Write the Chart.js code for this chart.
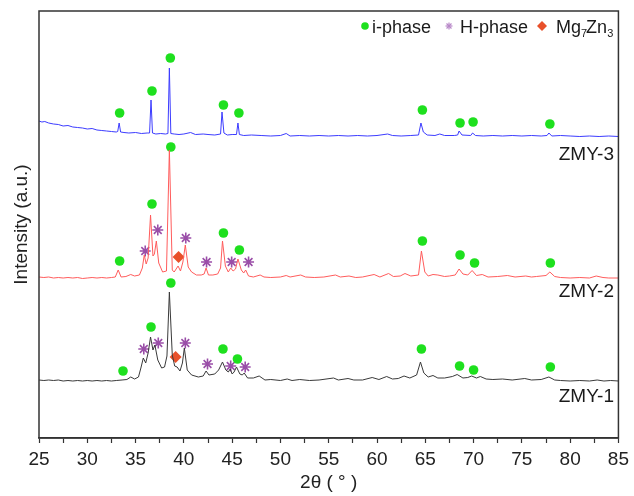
<!DOCTYPE html>
<html>
<head>
<meta charset="utf-8">
<script src="https://cdn.jsdelivr.net/npm/chart.js@4"></script>
<style>
    html, body { margin: 0; padding: 0; background: #fff; }
    #xrdChart { display: block; }
</style>
</head>
<body>
<canvas id="xrdChart" width="634" height="496"></canvas>
<script>
// 2theta (deg) vs intensity (a.u., traces stacked with offsets)
const zmy3 = [
    [25,317],[25.3,316],[25.6,316.5],[26,315],[26.5,314],[27,313.5],[27.5,312],[28,312.5],[28.5,311],[29,310.5],
    [29.5,310],[30,309],[30.5,309.5],[31,308],[31.5,307.5],[32,307],[32.5,306.5],[33,306],[33.15,306.5],[33.3,315],
    [33.45,306],[33.8,305.5],[34.3,305],[35,305.5],[35.6,304.5],[36.2,305],[36.45,305],[36.6,338],[36.75,305],[37.1,304],
    [37.6,304.5],[38.1,304],[38.35,304.5],[38.5,370],[38.65,304.5],[39,304],[39.5,303.5],[40,304],[40.7,305.5],[41.2,303.5],
    [42,304],[42.5,303.5],[43.2,303],[43.8,304],[43.95,326],[44.15,305],[44.5,303],[45,303.5],[45.45,303.5],[45.6,315],
    [45.75,303.5],[46.2,302.5],[47,303],[48,302.5],[49,302],[50,302.5],[50.6,304.5],[51,302],[52,302.5],[53,302],
    [54,302.5],[55,302],[56,302.5],[57,302],[58,302.5],[59,302],[60,302.5],[61.1,304],[61.6,302.5],[62.5,302],
    [63.5,302.5],[64.3,303],[64.55,315],[64.8,306],[65.2,303],[66,302.5],[66.5,304],[67,302.5],[68,302.5],[68.35,303],
    [68.5,307],[68.8,303],[69.7,302.5],[69.9,305],[70.2,302.5],[71,302],[72,302.5],[73,302],[74,302.5],[75,302],
    [76,302.5],[77,302],[77.6,302.5],[77.8,305],[78.1,302],[79,302.5],[80,302],[81,301.5],[82,302],[83,301.5],
    [84,302],[85,301.5]
];
const zmy2 = [
    [25,161],[25.5,160.5],[26,161],[26.5,160],[27,160.5],[27.5,160],[28,160.5],[28.5,160],[29,160.5],[29.5,159.5],
    [30,160],[30.5,160.5],[31,160],[31.5,160.5],[32,160],[32.5,160.5],[32.9,161],[33.2,168],[33.5,161],[34,161.5],
    [34.5,163.5],[34.9,162],[35.4,163],[35.7,170],[35.9,183],[36.1,174],[36.3,180],[36.55,223],[36.8,182],[36.95,184],
    [37.15,197],[37.4,175],[37.8,166],[38.2,167],[38.5,288],[38.8,168],[39,166],[39.2,169],[39.4,172],[39.65,167],
    [39.9,176],[40.15,193],[40.45,171],[40.8,166],[41.3,163],[41.8,163],[42.1,164],[42.3,170],[42.55,163],[43,163],
    [43.5,164],[43.8,170],[44,197],[44.3,172],[44.6,166],[44.85,170],[45.1,167],[45.35,169],[45.6,179],[45.95,168],
    [46.2,165],[46.4,168],[46.7,162],[47.2,161],[47.9,163],[48.3,161],[49,160.5],[50,161],[50.6,162.5],[51,161],
    [52.1,163],[52.6,161],[53.5,160.5],[54.5,161],[55.7,163],[56.2,161],[57.1,162],[57.8,160.5],[58.5,161],[59.7,163.5],
    [60.3,161],[61.2,164.5],[61.7,161.5],[62.4,162],[62.9,164.5],[63.5,162],[64.3,163],[64.6,187],[64.95,166],[65.3,162],
    [65.8,163.5],[66.3,163],[67,161.5],[67.5,162],[68.1,163],[68.5,169],[68.9,164],[69.4,163],[69.85,167.5],[70.3,162.5],
    [70.9,163.5],[71.5,161],[72.5,161.5],[73.5,162.5],[74.3,161],[75.4,162],[76,161],[76.5,161.5],[77.5,162.5],[77.9,166],
    [78.4,161.5],[79,160.5],[80,160],[81,160.5],[82,160],[82.7,162],[83.4,160.5],[84,160],[85,160]
];
const zmy1 = [
    [25,58],[25.5,57.5],[26,58],[26.5,57.5],[27,58],[27.5,57],[28,57.5],[28.5,57],[29,57.5],[29.5,57],
    [30,57.5],[30.5,57],[31,57.5],[31.5,57],[32,57.5],[32.5,57],[33,57.5],[33.6,58],[34.1,58.5],[34.5,61],
    [34.9,59],[35.3,61],[35.55,70],[35.8,80],[36.05,75],[36.3,85],[36.55,101],[36.8,88],[37,93],[37.3,78],
    [37.7,70],[38,71],[38.25,82],[38.5,146],[38.8,83],[39.05,72],[39.3,71],[39.6,67],[39.85,75],[40.05,90],
    [40.35,68],[40.8,63],[41.5,61],[42,62],[42.3,67],[42.6,63],[43.2,64],[43.6,68],[44,76],[44.35,68],
    [44.6,66],[44.8,69],[45,64],[45.2,66],[45.45,71],[45.8,64],[46.05,63],[46.25,65],[46.6,60],[47.2,60],
    [47.8,62],[48.4,58],[49,58.5],[50,57.5],[50.7,59],[51.2,57.5],[52,58.5],[53,57.5],[54,58],[55.5,60],
    [56,58],[57,59.5],[57.6,58],[58.5,58],[59.5,60.5],[60.2,58.5],[61,61.5],[61.6,59],[62.2,59.5],[62.8,62],
    [63.4,60],[64.1,63],[64.5,76],[64.85,65],[65.3,61],[65.8,62.5],[66.3,60],[67,60],[67.8,61.5],[68.3,63.5],
    [68.9,60],[69.4,60.5],[69.8,62],[70.3,60],[70.7,61.5],[71.3,59],[72,58.5],[73,59],[74,58],[75.3,59.5],
    [76,58],[77,58.5],[77.8,61],[78.4,58],[79,57.5],[80,57],[81,57.5],[82,57],[82.8,58],[83.5,57],
    [84.2,57.5],[85,57]
];

// phase markers [2theta, height]
const iPhase = [
    [33.35,325],[36.7,347],[38.6,380],[44.1,333],[45.7,325],[64.7,328],[68.6,315],[69.95,316],[77.9,314],
    [33.35,177],[36.7,234],[38.65,291],[44.1,205],[45.75,188],[64.7,197],[68.6,183],[70.1,175],[77.95,175],
    [33.7,67],[36.6,111],[38.65,155],[44.05,89],[45.55,79],[64.6,89],[68.55,72],[70,68],[77.95,71]
];
const hPhase = [
    [36.0,187],[37.3,208],[40.2,200],[42.35,176],[44.95,176],[46.7,176],
    [35.85,89],[37.35,95],[40.15,95],[42.45,74],[44.85,72],[46.35,71]
];
const mg7zn3 = [[39.45,181],[39.15,81]];

const xTickLabels = [25, 30, 35, 40, 45, 50, 55, 60, 65, 70, 75, 80, 85];
const sampleNames = ["ZMY-3", "ZMY-2", "ZMY-1"];
const sampleLabelY = [160, 297, 402];

const toXY = arr => arr.map(p => ({ x: p[0], y: p[1] }));

const framePlugin = {
    id: "frame",
    afterDraw(chart) {
        const c = chart.ctx;
        const a = chart.chartArea;
        c.save();
        c.strokeStyle = "#333";
        c.lineWidth = 1.5;
        c.strokeRect(a.left, a.top, a.right - a.left, a.bottom - a.top);

        // sample names
        c.fillStyle = "#1a1a1a";
        c.font = "19px 'Liberation Sans', Arial, sans-serif";
        c.textAlign = "right";
        c.textBaseline = "alphabetic";
        sampleNames.forEach((n, i) => c.fillText(n, 614, sampleLabelY[i]));

        // legend
        c.textAlign = "left";
        c.font = "18px 'Liberation Sans', Arial, sans-serif";
        c.fillStyle = "#1ee01e";
        c.beginPath();
        c.arc(365, 26, 3.8, 0, Math.PI * 2);
        c.fill();
        c.fillStyle = "#1a1a1a";
        c.fillText("i-phase", 372, 33);

        c.strokeStyle = "#b888c8";
        c.lineWidth = 1.2;
        for (let k = 0; k < 4; k++) {
            const ang = k * Math.PI / 4;
            c.beginPath();
            c.moveTo(449 - 3.5 * Math.cos(ang), 26 - 3.5 * Math.sin(ang));
            c.lineTo(449 + 3.5 * Math.cos(ang), 26 + 3.5 * Math.sin(ang));
            c.stroke();
        }
        c.fillText("H-phase", 460, 33);

        c.fillStyle = "#e8502a";
        c.beginPath();
        c.moveTo(542, 21); c.lineTo(547, 26); c.lineTo(542, 31); c.lineTo(537, 26);
        c.closePath();
        c.fill();
        c.fillStyle = "#1a1a1a";
        let x = 556;
        c.fillText("Mg", x, 33); x += c.measureText("Mg").width;
        c.font = "11px 'Liberation Sans', Arial, sans-serif";
        c.fillText("7", x, 37); x += c.measureText("7").width - 1;
        c.font = "18px 'Liberation Sans', Arial, sans-serif";
        c.fillText("Zn", x, 33); x += c.measureText("Zn").width;
        c.font = "11px 'Liberation Sans', Arial, sans-serif";
        c.fillText("3", x, 37);
        c.restore();
    }
};

document.addEventListener("DOMContentLoaded", () => {
    const ctx = document.getElementById("xrdChart");
    if (!ctx) return;

    const traceStyle = color => ({
        borderColor: color,
        borderWidth: 1,
        pointRadius: 0,
        tension: 0,
        fill: false
    });

    new Chart(ctx, {
        type: "line",
        data: {
            datasets: [
                { label: "ZMY-3", data: toXY(zmy3), ...traceStyle("#3c3cff") },
                { label: "ZMY-2", data: toXY(zmy2), ...traceStyle("#ff5c5c") },
                { label: "ZMY-1", data: toXY(zmy1), ...traceStyle("#3a3a3a") },
                {
                    label: "i-phase", data: toXY(iPhase), showLine: false,
                    pointStyle: "circle", pointRadius: 4.8,
                    backgroundColor: "#1ee01e", borderColor: "#1ee01e", borderWidth: 0
                },
                {
                    label: "H-phase", data: toXY(hPhase), showLine: false,
                    pointStyle: "star", pointRadius: 5.5,
                    backgroundColor: "#9a4ea8", borderColor: "#9a4ea8", borderWidth: 1.6
                },
                {
                    label: "Mg7Zn3", data: toXY(mg7zn3), showLine: false,
                    pointStyle: "rectRot", pointRadius: 6,
                    backgroundColor: "#e8502a", borderColor: "#e8502a", borderWidth: 0
                }
            ]
        },
        options: {
            responsive: false,
            animation: false,
            layout: { padding: { left: 8, right: 13, top: 11, bottom: 0 } },
            plugins: {
                legend: { display: false },
                tooltip: { enabled: false }
            },
            scales: {
                x: {
                    type: "linear",
                    min: 25,
                    max: 85,
                    afterFit: s => { s.height = 58; },
                    afterBuildTicks: s => {
                        s.ticks = [];
                        for (let v = 25; v <= 85; v += 2.5) s.ticks.push({ value: v });
                    },
                    grid: { drawOnChartArea: false, tickLength: 5, color: "#333", tickWidth: 1.2 },
                    border: { color: "#333", width: 1.5 },
                    ticks: {
                        autoSkip: false,
                        maxRotation: 0,
                        padding: 5,
                        color: "#222",
                        font: { family: "'Liberation Sans', Arial, sans-serif", size: 19 },
                        callback: v => xTickLabels.includes(v) ? String(v) : ""
                    },
                    title: {
                        display: true,
                        text: "2θ ( ° )",
                        color: "#222",
                        font: { family: "'Liberation Sans', Arial, sans-serif", size: 19 },
                        padding: { top: 0, bottom: 2 }
                    }
                },
                y: {
                    min: 0,
                    max: 427,
                    afterFit: s => { s.width = 31; },
                    grid: { display: false },
                    border: { display: false },
                    ticks: { display: false },
                    title: {
                        display: true,
                        text: "Intensity (a.u.)",
                        color: "#222",
                        font: { family: "'Liberation Sans', Arial, sans-serif", size: 19 },
                        padding: { top: 2, bottom: 0 }
                    }
                }
            }
        },
        plugins: [framePlugin]
    });
});
</script>
</body>
</html>
